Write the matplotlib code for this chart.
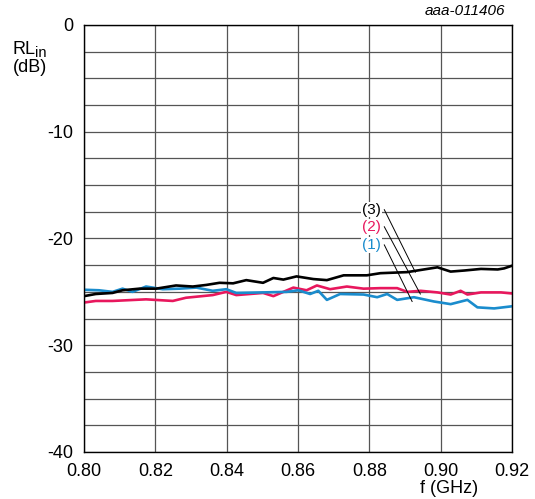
import numpy as np
import matplotlib
matplotlib.use('Agg')
import matplotlib.pyplot as plt

plt.rcParams['font.family'] = ['Liberation Sans', 'DejaVu Sans']

## ------------------------------
## data (f in GHz, RLin in dB)
f_black = [0.8000, 0.8033, 0.8080, 0.8108, 0.8155, 0.8202, 0.8258, 0.8305, 0.8343,
           0.8380, 0.8418, 0.8455, 0.8502, 0.8531, 0.8559, 0.8596, 0.8643, 0.8681,
           0.8728, 0.8793, 0.8831, 0.8906, 0.8953, 0.8991, 0.9028, 0.9066, 0.9113,
           0.9160, 0.9178, 0.9200]
rl_black = [-25.4, -25.2, -25.1, -24.85, -24.7, -24.7, -24.4, -24.5, -24.35,
            -24.15, -24.2, -23.9, -24.15, -23.7, -23.85, -23.55, -23.8, -23.9,
            -23.45, -23.45, -23.25, -23.15, -22.9, -22.7, -23.1, -23.0, -22.85,
            -22.9, -22.8, -22.55]

f_pink = [0.8000, 0.8033, 0.8080, 0.8174, 0.8249, 0.8286, 0.8361, 0.8399, 0.8427,
          0.8502, 0.8531, 0.8587, 0.8624, 0.8653, 0.8690, 0.8737, 0.8784, 0.8831,
          0.8878, 0.8906, 0.8944, 0.8991, 0.9028, 0.9056, 0.9075, 0.9113, 0.9169,
          0.9200]
rl_pink = [-26.0, -25.85, -25.85, -25.7, -25.85, -25.55, -25.3, -25.0, -25.3,
           -25.1, -25.4, -24.6, -24.85, -24.4, -24.75, -24.5, -24.7, -24.65,
           -24.65, -25.0, -24.9, -25.05, -25.25, -24.9, -25.25, -25.05, -25.05,
           -25.15]

f_blue = [0.8000, 0.8042, 0.8080, 0.8108, 0.8136, 0.8174, 0.8221, 0.8268, 0.8315,
          0.8361, 0.8399, 0.8427, 0.8502, 0.8568, 0.8601, 0.8634, 0.8657, 0.8681,
          0.8718, 0.8784, 0.8822, 0.8850, 0.8878, 0.8925, 0.8981, 0.9028, 0.9075,
          0.9103, 0.9150, 0.9200]
rl_blue = [-24.8, -24.85, -25.0, -24.7, -25.0, -24.5, -24.75, -24.7, -24.6,
           -24.9, -24.75, -25.1, -25.05, -25.0, -24.85, -25.2, -24.9, -25.75,
           -25.2, -25.25, -25.5, -25.2, -25.75, -25.5, -25.9, -26.15, -25.75,
           -26.45, -26.55, -26.35]

labels = ['(3)', '(2)', '(1)']
label_y = [-17.3, -18.9, -20.6]
arrow_to = [(0.8929, -23.15), (0.8943, -25.2), (0.8920, -25.9)]

c_black = '#000000'
c_pink = '#e8175d'
c_blue = '#1a8ccd'

fig = plt.figure(figsize=(5.35, 4.99), dpi=100)
ax = fig.add_axes([0.157, 0.0942, 0.800, 0.8557])

ax.plot(f_pink, rl_pink, color=c_pink, lw=1.9, solid_joinstyle='round')
ax.plot(f_blue, rl_blue, color=c_blue, lw=1.9, solid_joinstyle='round')
ax.plot(f_black, rl_black, color=c_black, lw=1.9, solid_joinstyle='round')

ax.set_xlim(0.80, 0.92)
ax.set_ylim(-40, 0)
ax.set_xticks(np.arange(0.80, 0.921, 0.02))
ax.set_xticklabels(['%.2f' % v for v in np.arange(0.80, 0.921, 0.02)], fontsize=13)
ax.set_yticks([0, -10, -20, -30, -40])
ax.set_yticklabels(['0', '-10', '-20', '-30', '-40'], fontsize=13)
ax.set_yticks(np.arange(-40, 0.1, 2.5), minor=True)
ax.tick_params(which='both', length=0)
ax.tick_params(axis='y', pad=8)
ax.tick_params(axis='x', pad=8)
ax.grid(True, which='major', axis='x', color='#555555', lw=0.9)
ax.grid(True, which='both', axis='y', color='#555555', lw=0.9)
ax.set_axisbelow(True)
for s in ax.spines.values():
    s.set_linewidth(1.0)

cols = [c_black, c_pink, c_blue]
for i in range(3):
    ax.text(0.8806, label_y[i], labels[i], color=cols[i], fontsize=11,
            ha='center', va='center',
            bbox=dict(facecolor='white', edgecolor='none', pad=0.5))
    ax.plot([0.8842, arrow_to[i][0]], [label_y[i], arrow_to[i][1]],
            color='black', lw=0.7)

# y axis title: RL with subscript "in", then unit below
fig.text(13 / 535, 1 - 54 / 499, 'RL', fontsize=13, ha='left', va='baseline')
fig.text(35.5 / 535, 1 - 57 / 499, 'in', fontsize=10.5, ha='left', va='baseline')
fig.text(13 / 535, 1 - 68 / 499, '(dB)', fontsize=13, ha='left', va='center')
fig.text(0.840, 0.022, 'f (GHz)', fontsize=13, ha='center', va='center')
fig.text(0.945, 0.978, 'aaa-011406', fontsize=11, style='italic', ha='right', va='center')

fig.savefig('out.png', dpi=100)
